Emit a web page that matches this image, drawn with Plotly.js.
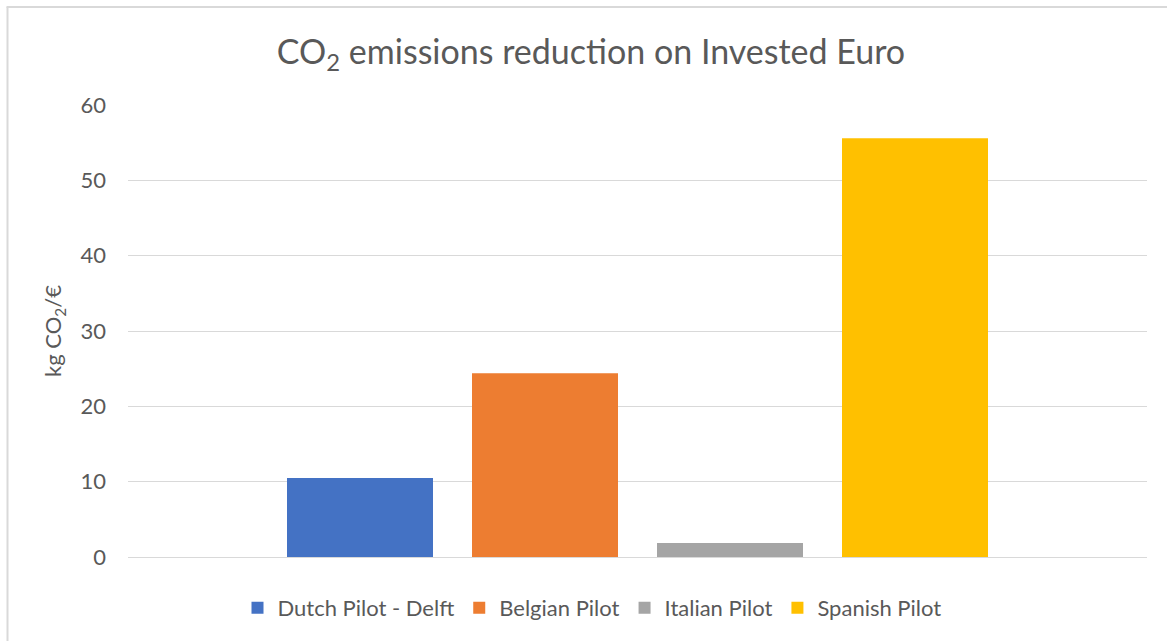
<!DOCTYPE html>
<html>
<head>
<meta charset="utf-8">
<script src="https://cdn.plot.ly/plotly-3.0.1.min.js"></script>
<style>
  html, body { margin: 0; padding: 0; background: #ffffff; }
  #chart { width: 1167px; height: 641px; }
</style>
</head>
<body>
<div id="chart"></div>
<script>
// Pilot sites and their CO2 reduction per invested euro (kg CO2/€)
const pilots = ["Dutch Pilot - Delft", "Belgian Pilot", "Italian Pilot", "Spanish Pilot"];
const reduction = [10.5, 24.4, 1.85, 55.6];
const colors = ["#4472C4", "#ED7D31", "#A5A5A5", "#FFC000"];
const yTicks = [0, 10, 20, 30, 40, 50, 60];

const textColor = "#595959";
const gridColor = "#D9D9D9";
const font = "Lato, 'Open Sans', sans-serif";

// One bar per pilot, all sharing a single category slot
const traces = pilots.map((name, i) => ({
  type: "bar",
  name: name,
  x: ["all"],
  y: [reduction[i]],
  textposition: "none",
  marker: { color: colors[i], line: { width: 0 } },
  hoverinfo: "name+y"
}));

// Plot area geometry (px) used to place the frame outline in paper units
const L = 128, R = 20, T = 105, B = 84, W = 1167, H = 641;
const pw = W - L - R, ph = H - T - B;
const px = v => (v - L) / pw;
const py = v => (H - B - v) / ph;

const layout = {
  width: W,
  height: H,
  margin: { l: L, r: R, t: T, b: B, pad: 0 },
  paper_bgcolor: "#ffffff",
  plot_bgcolor: "#ffffff",
  font: { family: font, color: textColor, size: 22 },
  title: {
    text: "CO<sub>2</sub> emissions reduction on Invested Euro",
    font: { family: font, size: 34, color: textColor },
    xref: "paper",
    x: px(591),
    xanchor: "center",
    yref: "container",
    y: 1 - 52 / H,
    yanchor: "middle"
  },
  barmode: "group",
  bargap: 0.2738,
  bargroupgap: 0.2108,
  xaxis: {
    type: "category",
    range: [-0.5, 0.5],
    showticklabels: false,
    showgrid: false,
    zeroline: false,
    showline: false,
    ticks: "",
    fixedrange: true
  },
  yaxis: {
    range: [0, 60],
    tickvals: yTicks,
    ticktext: yTicks.map(String),
    showgrid: true,
    gridcolor: gridColor,
    gridwidth: 1,
    zeroline: true,
    zerolinecolor: gridColor,
    zerolinewidth: 1,
    showline: false,
    ticks: "",
    ticklabelstandoff: 21,
    tickfont: { family: font, size: 22, color: textColor },
    title: {
      text: "kg CO<sub>2</sub>/€",
      font: { family: font, size: 22, color: textColor },
      standoff: 12
    },
    fixedrange: true
  },
  showlegend: true,
  legend: {
    orientation: "h",
    xref: "paper",
    x: px(592),
    xanchor: "center",
    yref: "paper",
    y: py(608),
    yanchor: "middle",
    font: { family: font, size: 22, color: textColor },
    bgcolor: "rgba(0,0,0,0)",
    itemclick: false,
    itemdoubleclick: false
  },
  shapes: [
    // chart frame: left and top edges
    {
      type: "line", xref: "paper", yref: "paper",
      x0: px(7.5), x1: px(7.5), y0: py(7), y1: py(650),
      line: { color: gridColor, width: 2 }
    },
    {
      type: "line", xref: "paper", yref: "paper",
      x0: px(6.5), x1: px(1180), y0: py(7), y1: py(7),
      line: { color: gridColor, width: 2 }
    }
  ]
};

Plotly.newPlot("chart", traces, layout, { displayModeBar: false, staticPlot: true });
</script>
</body>
</html>
